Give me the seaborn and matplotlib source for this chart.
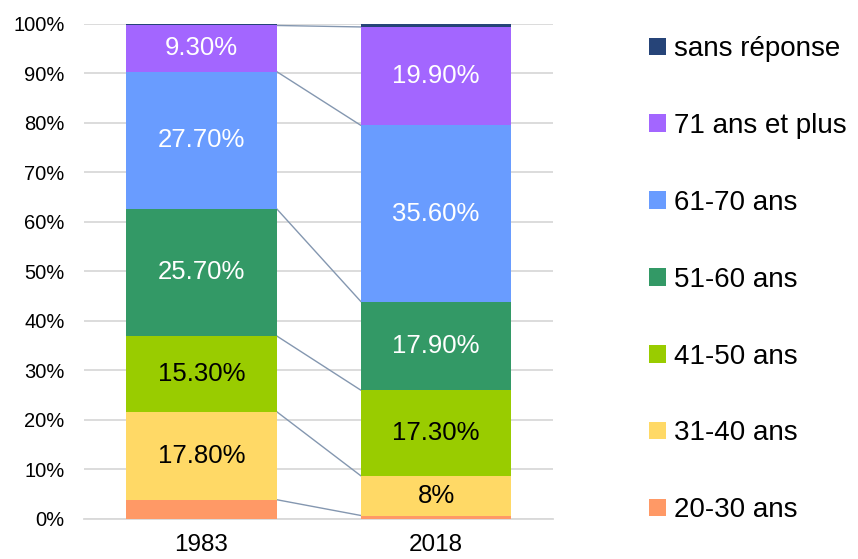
import matplotlib
matplotlib.use("Agg")
import matplotlib.pyplot as plt
import seaborn as sns
import pandas as pd
from matplotlib.patches import Patch
from matplotlib.ticker import PercentFormatter, MultipleLocator

# Age distribution (in %) for the two survey years
years = ["1983", "2018"]
groups = ["20-30 ans", "31-40 ans", "41-50 ans", "51-60 ans",
          "61-70 ans", "71 ans et plus", "sans réponse"]
share_1983 = [3.9, 17.8, 15.3, 25.7, 27.7, 9.3, 0.3]
share_2018 = [0.7, 8.0, 17.3, 17.9, 35.6, 19.9, 0.6]
labels_1983 = ["", "17.80%", "15.30%", "25.70%", "27.70%", "9.30%", ""]
labels_2018 = ["", "8%", "17.30%", "17.90%", "35.60%", "19.90%", ""]

colors = ["#ff9966", "#ffd966", "#99cc00", "#339966",
          "#699cff", "#a366ff", "#264478"]
text_colors = ["black", "black", "black", "white", "white", "white", "white"]

rows = []
for year, shares, labels in [(years[0], share_1983, labels_1983),
                             (years[1], share_2018, labels_2018)]:
    bottom = 0.0
    for g, s, lab in zip(groups, shares, labels):
        rows.append({"year": year, "group": g, "share": s,
                     "bottom": bottom, "top": bottom + s, "label": lab})
        bottom += s
df = pd.DataFrame(rows)

sns.set_style("white")
plt.rcParams["font.family"] = ["Liberation Sans", "DejaVu Sans"]
plt.rcParams["text.color"] = "black"
plt.rcParams["xtick.color"] = "black"
plt.rcParams["ytick.color"] = "black"

fig = plt.figure(figsize=(8.58, 5.59), dpi=100)
ax = fig.add_axes([0.098, 0.0716, 0.547, 0.8855])

BAR_W = 0.64
# stacked bars: cumulative tops drawn from the highest down
for g, c in reversed(list(zip(groups, colors))):
    sub = df[df["group"] == g]
    sns.barplot(data=sub, x="year", y="top", order=years, color=c,
                saturation=1, width=BAR_W, errorbar=None, linewidth=0,
                ax=ax, zorder=3)

# connector lines between segment boundaries
for g in groups[:-1]:
    t0 = df[(df["year"] == years[0]) & (df["group"] == g)]["top"].iloc[0]
    t1 = df[(df["year"] == years[1]) & (df["group"] == g)]["top"].iloc[0]
    ax.plot([0 + BAR_W / 2, 1 - BAR_W / 2], [t0, t1], color="#8497b0",
            lw=1.0, zorder=2)

# value labels
for _, r in df.iterrows():
    if r["label"]:
        xi = years.index(r["year"])
        tc = text_colors[groups.index(r["group"])]
        ax.text(xi, r["bottom"] + r["share"] / 2, r["label"], ha="center",
                va="center", fontsize=18.5, color=tc, zorder=4)

ax.set_xlim(-0.5, 1.5)
ax.set_ylim(0, 100)
ax.yaxis.set_major_locator(MultipleLocator(10))
ax.yaxis.set_major_formatter(PercentFormatter(decimals=0))
ax.yaxis.grid(True, color="#d9d9d9", lw=1.3, zorder=0)
ax.set_axisbelow(True)
for side in ["top", "right", "left"]:
    ax.spines[side].set_visible(False)
ax.spines["bottom"].set_color("#d9d9d9")
ax.spines["bottom"].set_linewidth(1.3)
ax.spines["bottom"].set_zorder(1)
ax.tick_params(axis="both", length=0)
ax.tick_params(axis="y", labelsize=14.5, pad=14)
ax.tick_params(axis="x", labelsize=17.5, pad=11)
ax.set_xlabel("")
ax.set_ylabel("")

handles = [Patch(facecolor=c, edgecolor="none", label=g)
           for g, c in zip(groups, colors)][::-1]
fig.legend(handles=handles, loc="upper left", bbox_to_anchor=(0.744, 0.955),
           frameon=False, fontsize=20, handlelength=0.6, handleheight=0.6,
           handletextpad=0.3, labelspacing=1.83, borderaxespad=0)

fig.savefig("out.png", dpi=100)
